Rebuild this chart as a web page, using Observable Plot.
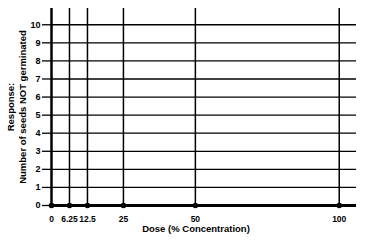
<!DOCTYPE html>
<html><head><meta charset="utf-8">
<script src="https://cdn.jsdelivr.net/npm/d3@7"></script>
<script src="https://cdn.jsdelivr.net/npm/@observablehq/plot@0.6"></script>
<style>body{margin:0;background:#fff}</style>
</head><body><div id="chart"></div>
<script>
const doses = [0, 6.25, 12.5, 25, 50, 100];
const doseLabels = ["0", "6.25", "12.5", "25", "50", "100"];
const responseTicks = [0, 1, 2, 3, 4, 5, 6, 7, 8, 9, 10];
const notGerminated = [0, 0, 0, 0, 0, 0];
const xTitle = "Dose (% Concentration)";
const yTitle = "Response:\nNumber of seeds NOT germinated";

const xMax = 106, yMax = 10.9;
const points = doses.map((d, i) => ({dose: d, n: notGerminated[i]}));

const chart = Plot.plot({
  width: 372, height: 245,
  marginLeft: 51, marginRight: 16, marginTop: 8, marginBottom: 40,
  style: {fontFamily: "'Liberation Sans', Arial, sans-serif", fontWeight: "bold", fontSize: "8.5px", color: "#000", background: "#fff"},
  x: {domain: [0, xMax]},
  y: {domain: [0, yMax]},
  marks: [
    Plot.ruleY(responseTicks.filter(d => d > 0), {stroke: "#000", strokeWidth: 1.3}),
    Plot.ruleX(doses.filter(d => d > 0), {y1: 0, y2: yMax, stroke: "#000", strokeWidth: 1.5}),
    Plot.ruleX(doses.filter(d => d === 0), {y1: 0, y2: yMax, stroke: "#000", strokeWidth: 2.5}),
    Plot.ruleY([0], {stroke: "#000", strokeWidth: 3}),
    Plot.dot(points, {x: "dose", y: "n", r: 2.8, fill: "#000", stroke: "none"}),
    Plot.axisY({ticks: responseTicks, tickSize: 9, tickPadding: 2, label: null, fontSize: 9, strokeWidth: 1.3}),
    Plot.axisX({ticks: doses, tickFormat: (d) => doseLabels[doses.indexOf(d)], tickSize: 0, tickPadding: 10, label: null, fontSize: 8.5}),
    Plot.text([xTitle], {frameAnchor: "bottom", dy: 26, dx: -8, fontSize: 9.5, fill: "#000"}),
    Plot.text([yTitle], {frameAnchor: "left", textAnchor: "middle", rotate: -90, dx: -35, fontSize: 9.5, lineHeight: 1.25, fill: "#000"})
  ]
});
document.getElementById("chart").appendChild(chart);
</script>
</body></html>
